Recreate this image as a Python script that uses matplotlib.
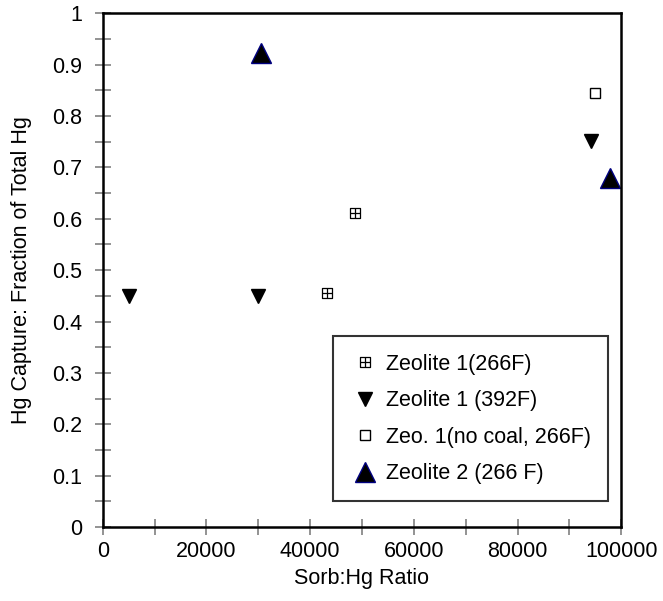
import matplotlib
matplotlib.use("Agg")
import matplotlib.pyplot as plt
from matplotlib.path import Path
from matplotlib.ticker import MultipleLocator, FuncFormatter

plt.rcParams['font.family'] = ['Liberation Sans', 'DejaVu Sans']

# Data
z1_266_x = [43300, 48700]
z1_266_y = [0.455, 0.612]
z1_392_x = [5000, 30000, 94200]
z1_392_y = [0.45, 0.45, 0.752]
z1_nocoal_x = [95000]
z1_nocoal_y = [0.845]
z2_266_x = [30500, 97800]
z2_266_y = [0.922, 0.679]

labels = ["Zeolite 1(266F)", "Zeolite 1 (392F)", "Zeo. 1(no coal, 266F)", "Zeolite 2 (266 F)"]

# Square with cross marker
verts = [(-1, -1), (1, -1), (1, 1), (-1, 1), (-1, -1),
         (0, -1), (0, 1), (-1, 0), (1, 0)]
codes = [Path.MOVETO, Path.LINETO, Path.LINETO, Path.LINETO, Path.CLOSEPOLY,
         Path.MOVETO, Path.LINETO, Path.MOVETO, Path.LINETO]
sqcross = Path(verts, codes)

FS = 15.5

fig = plt.figure(figsize=(6.63, 6.01), dpi=100)
ax = fig.add_axes([0.155, 0.123, 0.782, 0.855])

ax.plot(z1_266_x, z1_266_y, linestyle='none', marker=sqcross, markersize=6.5,
        markerfacecolor='none', markeredgecolor='black', markeredgewidth=0.9, label=labels[0])
ax.plot(z1_392_x, z1_392_y, linestyle='none', marker='v', markersize=10,
        markerfacecolor='black', markeredgecolor='black', label=labels[1])
ax.plot(z1_nocoal_x, z1_nocoal_y, linestyle='none', marker='s', markersize=6.5,
        markerfacecolor='white', markeredgecolor='black', markeredgewidth=1.0, label=labels[2])
ax.plot(z2_266_x, z2_266_y, linestyle='none', marker='^', markersize=14,
        markerfacecolor='black', markeredgecolor='#000080', markeredgewidth=1.0, label=labels[3])

ax.set_xlim(0, 100000)
ax.set_ylim(0, 1)
ax.xaxis.set_major_locator(MultipleLocator(20000))
ax.xaxis.set_minor_locator(MultipleLocator(10000))
ax.yaxis.set_major_locator(MultipleLocator(0.1))
ax.yaxis.set_minor_locator(MultipleLocator(0.05))
ax.yaxis.set_major_formatter(FuncFormatter(lambda v, p: ('%g' % round(v, 2))))
ax.xaxis.set_major_formatter(FuncFormatter(lambda v, p: '%d' % round(v)))

for which in ('major', 'minor'):
    ax.tick_params(which=which, direction='inout', length=12, width=1.2,
                   color='#808080', labelsize=FS)
ax.tick_params(axis='x', pad=4)
ax.tick_params(axis='y', pad=9)

for s in ax.spines.values():
    s.set_linewidth(1.8)
    s.set_color('black')

ax.set_xlabel("Sorb:Hg Ratio", fontsize=FS, labelpad=4)
ax.set_ylabel("Hg Capture: Fraction of Total Hg", fontsize=FS, labelpad=14)

leg = ax.legend(loc='lower left', bbox_to_anchor=(0.444, 0.05, 0.531, 0.327), mode='expand',
                fontsize=15.5, frameon=True, fancybox=False, borderpad=0.8,
                labelspacing=0.72, handletextpad=0.25, handlelength=1.4, borderaxespad=0)
leg.get_frame().set_edgecolor('black')
leg.get_frame().set_linewidth(1.5)

fig.savefig("out.png", dpi=100)
